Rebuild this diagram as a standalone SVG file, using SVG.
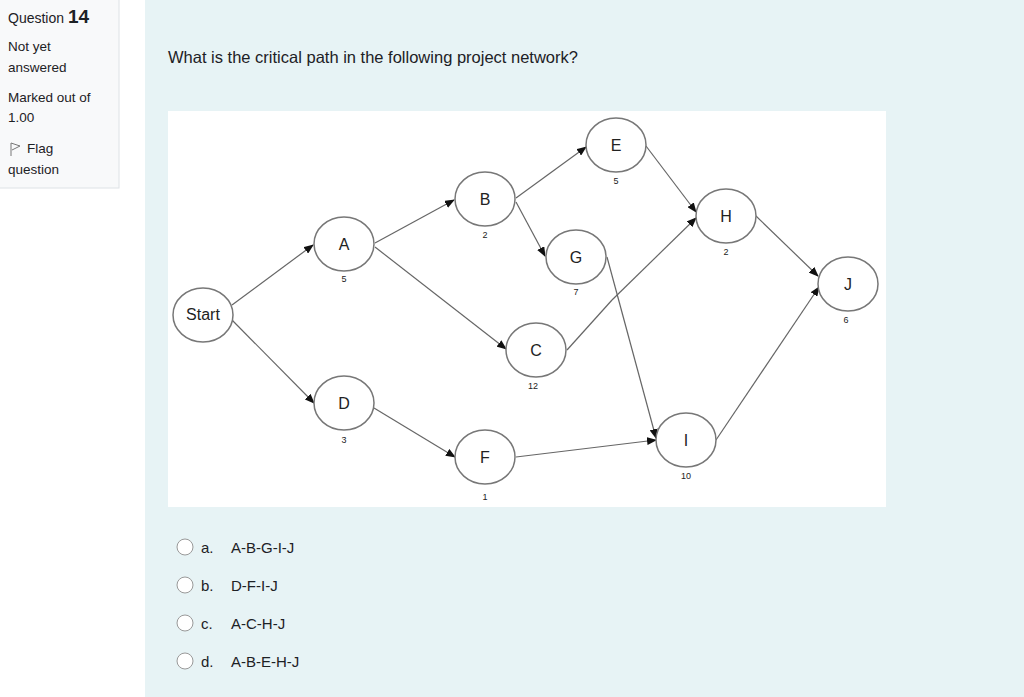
<svg xmlns="http://www.w3.org/2000/svg" width="1024" height="697" viewBox="0 0 1024 697">
<style>
.t{font-family:"Helvetica Neue","Liberation Sans",Arial,sans-serif;fill:#1d2125}
.n ellipse{fill:#fff;stroke:#777;stroke-width:1.5}
.n text{font-family:"Liberation Sans",Arial,sans-serif;fill:#222;text-anchor:middle}
.l{font-size:16px}
.d{font-size:9px}
#edges line{stroke:#666;stroke-width:1.2;marker-end:url(#ah)}
#edges line.p{marker-end:none}
.r{fill:#fff;stroke:#999;stroke-width:1}
</style>
<defs><marker id="ah" markerWidth="10" markerHeight="8" refX="9" refY="4" orient="auto" markerUnits="userSpaceOnUse"><path d="M0,0 L10,4 L0,8 Z" fill="#111"/></marker></defs>
<rect width="1024" height="697" fill="#fff"/>
<rect x="145" y="0" width="879" height="697" fill="#e7f3f5"/>
<rect x="-1" y="-1" width="120" height="189" fill="#f8f9fa" stroke="#dee2e6"/>
<text class="t" x="8" y="23" font-size="14">Question <tspan font-size="19" font-weight="bold">14</tspan></text>
<text class="t" x="8" y="51" font-size="13.5">Not yet</text>
<text class="t" x="8" y="72" font-size="13.5">answered</text>
<text class="t" x="8" y="102" font-size="13.5">Marked out of</text>
<text class="t" x="8" y="122" font-size="13.5">1.00</text>
<path d="M11,143 V156 M11,143 L20,146 L12,150" fill="none" stroke="#777" stroke-width="1"/>
<text class="t" x="27" y="153" font-size="13.5">Flag</text>
<text class="t" x="8" y="174" font-size="13.5">question</text>
<text class="t" x="168" y="63" font-size="16.5">What is the critical path in the following project network?</text>
<rect x="168" y="111" width="718" height="396" fill="#fff"/>
<g id="edges">
<line x1="232" y1="305" x2="313" y2="245"/>
<line x1="232" y1="320" x2="314" y2="403"/>
<line x1="375" y1="243" x2="454" y2="200"/>
<line x1="375" y1="247" x2="506" y2="349"/>
<line x1="374" y1="408" x2="455" y2="457"/>
<line x1="516" y1="198" x2="586" y2="147"/>
<line x1="516" y1="202" x2="545" y2="256"/>
<line x1="646" y1="146" x2="696" y2="212"/>
<line class="p" x1="567" y1="350" x2="612" y2="300"/>
<line x1="612" y1="300" x2="696" y2="218"/>
<line x1="607" y1="257" x2="656" y2="438"/>
<line x1="516" y1="457" x2="656" y2="440"/>
<line x1="756" y1="216" x2="818" y2="276"/>
<line x1="716" y1="440" x2="819" y2="287"/>
</g>
<g id="nStart" class="n"><ellipse cx="203" cy="315" rx="30" ry="27"/><text class="l" x="203" y="320">Start</text></g>
<g id="nA" class="n"><ellipse cx="344" cy="244" rx="30" ry="27"/><text class="l" x="344" y="250">A</text><text class="d" x="344" y="282">5</text></g>
<g id="nB" class="n"><ellipse cx="485" cy="199" rx="30" ry="27"/><text class="l" x="485" y="205">B</text><text class="d" x="485" y="238">2</text></g>
<g id="nG" class="n"><ellipse cx="576" cy="257" rx="30" ry="27"/><text class="l" x="576" y="263">G</text><text class="d" x="576" y="295">7</text></g>
<g id="nC" class="n"><ellipse cx="536" cy="350" rx="30" ry="27"/><text class="l" x="536" y="356">C</text><text class="d" x="533" y="389">12</text></g>
<g id="nD" class="n"><ellipse cx="344" cy="403" rx="30" ry="27"/><text class="l" x="344" y="409">D</text><text class="d" x="344" y="443">3</text></g>
<g id="nF" class="n"><ellipse cx="485" cy="457" rx="30" ry="27"/><text class="l" x="485" y="463">F</text><text class="d" x="485" y="500">1</text></g>
<g id="nE" class="n"><ellipse cx="616" cy="145" rx="30" ry="27"/><text class="l" x="616" y="151">E</text><text class="d" x="616" y="184">5</text></g>
<g id="nH" class="n"><ellipse cx="726" cy="216" rx="30" ry="27"/><text class="l" x="726" y="222">H</text><text class="d" x="726" y="255">2</text></g>
<g id="nJ" class="n"><ellipse cx="848" cy="284" rx="30" ry="27"/><text class="l" x="848" y="290">J</text><text class="d" x="846" y="323">6</text></g>
<g id="nI" class="n"><ellipse cx="686" cy="440" rx="30" ry="27"/><text class="l" x="686" y="446">I</text><text class="d" x="686" y="479">10</text></g>
<circle class="r" cx="185" cy="547" r="8"/><text class="t" x="201" y="553" font-size="15">a.</text><text class="t" x="231" y="553" font-size="15">A-B-G-I-J</text>
<circle class="r" cx="185" cy="585" r="8"/><text class="t" x="201" y="591" font-size="15">b.</text><text class="t" x="231" y="591" font-size="15">D-F-I-J</text>
<circle class="r" cx="185" cy="623" r="8"/><text class="t" x="201" y="629" font-size="15">c.</text><text class="t" x="231" y="629" font-size="15">A-C-H-J</text>
<circle class="r" cx="185" cy="661" r="8"/><text class="t" x="201" y="667" font-size="15">d.</text><text class="t" x="231" y="667" font-size="15">A-B-E-H-J</text>
</svg>
